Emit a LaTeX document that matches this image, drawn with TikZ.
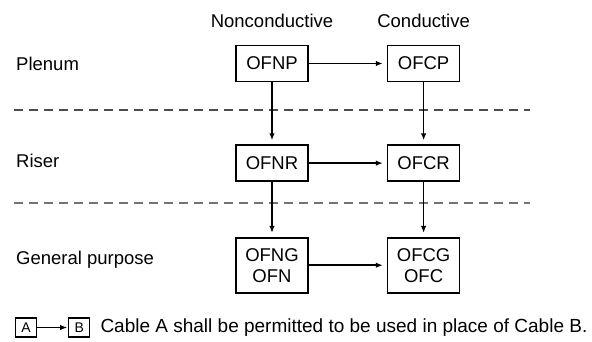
\documentclass[tikz,border=0pt]{standalone}
\usepackage{fontspec}
\setmainfont{Liberation Sans}
\usetikzlibrary{arrows.meta, positioning}
\tikzset{
  cable/.style={draw, line width=1.6pt, align=center, minimum width=72pt, minimum height=36pt, inner sep=2pt},
  head/.style={inner sep=0pt},
  rowlabel/.style={anchor=west, inner sep=0pt},
  keybox/.style={draw, line width=1.2pt, minimum width=21pt, minimum height=19pt, inner sep=0pt, font=\fontsize{14}{16}\selectfont},
  note/.style={anchor=west, inner sep=0pt, font=\fontsize{19}{21}\selectfont},
  arrow/.style={-{Latex[length=7pt, width=5.5pt]}, line width=1.5pt, shorten >=4pt},
  divider/.style={dashed, dash pattern=on 9pt off 6pt, line width=1.6pt, black!70},
  every node/.style={font=\fontsize{18.5}{21}\selectfont}
}
\begin{document}
\begin{tikzpicture}[x=1pt, y=-1pt]
    \useasboundingbox (0,0) rectangle (592,341);

    \node[cable] (ofnp) at (272,63.5) {OFNP};
    \node[cable, right=78pt of ofnp] (ofcp) {OFCP};
    \node[cable, below=62pt of ofnp] (ofnr) {OFNR};
    \node[cable, below=62pt of ofcp] (ofcr) {OFCR};
    \node[cable, minimum height=55pt, below=55pt of ofnr] (ofng) {OFNG\\OFN};
    \node[cable, minimum height=55pt, below=55pt of ofcr] (ofcg) {OFCG\\OFC};

    \node[head, above=17pt of ofnp] (noncond) {Nonconductive};
    \node[head, above=17pt of ofcp] (cond) {Conductive};

    \node[rowlabel] (plenum) at (16,63.5) {Plenum};
    \node[rowlabel] (riser) at (16,161) {Riser};
    \node[rowlabel] (general) at (16,260) {General purpose};

    \coordinate (d1l) at (14,110);
    \coordinate (d1r) at (530,110);
    \coordinate (d2l) at (14,203);
    \coordinate (d2r) at (530,203);
    \draw[divider] (d1l) -- (d1r);
    \draw[divider, black!55] (d2l) -- (d2r);

    \draw[arrow] (ofnp) -- (ofcp);
    \draw[arrow] (ofnr) -- (ofcr);
    \draw[arrow] (ofng) -- (ofcg);
    \draw[arrow] (ofnp) -- (ofnr);
    \draw[arrow] (ofnr) -- (ofng);
    \draw[arrow] (ofcp) -- (ofcr);
    \draw[arrow] (ofcr) -- (ofcg);

    % key
    \node[keybox] (keya) at (26,327.5) {A};
    \node[keybox, right=31pt of keya] (keyb) {B};
    \node[note, right=10pt of keyb] (keytext) {Cable A shall be permitted to be used in place of Cable B.};
    \draw[arrow, line width=1.2pt, shorten >=1pt] (keya) -- (keyb);
\end{tikzpicture}
\end{document}
